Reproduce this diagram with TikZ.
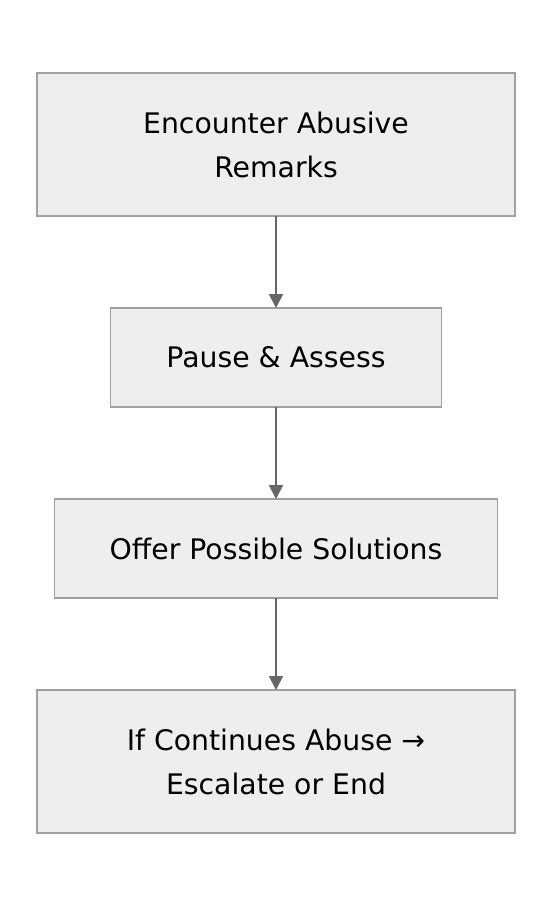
\documentclass[tikz,border=0pt]{standalone}
\usepackage{fontspec}
\setmainfont{DejaVu Sans}
\usetikzlibrary{arrows.meta, positioning}
\definecolor{boxfill}{HTML}{EEEEEE}
\definecolor{boxline}{HTML}{A0A0A0}
\definecolor{linkgray}{HTML}{666666}

\begin{document}
\begin{tikzpicture}[x=1pt,y=1pt,>={Triangle[length=14pt,width=14pt]},node distance=92pt,
  stepbox/.style={draw=boxline,line width=1.5pt,fill=boxfill,align=center,
    font=\fontsize{28.3}{44}\selectfont,inner sep=0pt,outer sep=0pt},
  link/.style={->,draw=linkgray,line width=2pt,color=linkgray}]
\useasboundingbox (0,0) rectangle (552,-908);
% define the steps
  \node[stepbox,minimum width=478pt,minimum height=143pt,anchor=north] (meet) at (276,-73)
        {Encounter Abusive\\Remarks};
  \node[stepbox,minimum width=331pt,minimum height=99pt] (pause) [below=of meet] {Pause \& Assess};
  \node[stepbox,minimum width=443pt,minimum height=99pt] (offer) [below=of pause] {Offer Possible Solutions};
  \node[stepbox,minimum width=478pt,minimum height=143pt] (endit) [below=of offer]
        {If Continues Abuse →\\Escalate or End};

% define the links
  \draw[link] (meet) -- (pause);
  \draw[link] (pause) -- (offer);
  \draw[link] (offer) -- (endit);
\end{tikzpicture}
\end{document}
